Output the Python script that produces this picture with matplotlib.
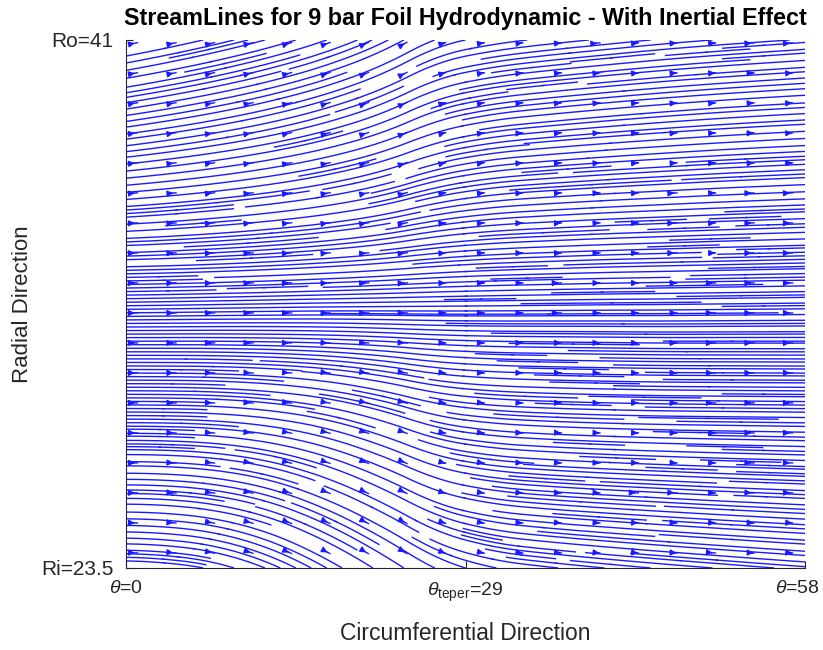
import numpy as np
import matplotlib.pyplot as plt
import matplotlib.transforms as mtransforms

plt.rcParams['font.family'] = ['Liberation Sans', 'DejaVu Sans']
plt.rcParams['mathtext.fontset'] = 'custom'
plt.rcParams['mathtext.rm'] = 'Liberation Sans'
plt.rcParams['mathtext.it'] = 'Liberation Sans:italic'

# grid of the film (circumferential angle, radius)
theta_nodes = np.linspace(0, 58, 13)
r_nodes = np.linspace(23.5, 41, 8)

# streamline slope (screen px down per px right),
# rows go from Ri (bottom) to Ro (top)
slope_px = np.array([
    [0.02, 0.12, 0.32, 0.50, 0.60, 0.65, 0.30, 0.12, 0.10, 0.09, 0.08, 0.08, 0.07],
    [0.00, 0.08, 0.20, 0.35, 0.45, 0.50, 0.20, 0.08, 0.06, 0.05, 0.05, 0.04, 0.04],
    [0.00, 0.02, 0.08, 0.16, 0.26, 0.32, 0.12, 0.05, 0.03, 0.02, 0.01, 0.01, 0.01],
    [0.00, 0.00, 0.01, 0.02, 0.04, 0.06, 0.03, 0.01, 0.01, 0.01, 0.00, 0.00, 0.00],
    [-0.02, -0.03, -0.04, -0.05, -0.06, -0.08, -0.05, -0.03, -0.03, -0.02, -0.02, -0.02, -0.02],
    [-0.08, -0.10, -0.12, -0.15, -0.20, -0.28, -0.15, -0.07, -0.06, -0.05, -0.05, -0.04, -0.04],
    [-0.15, -0.17, -0.20, -0.25, -0.32, -0.45, -0.20, -0.10, -0.09, -0.08, -0.07, -0.06, -0.05],
    [-0.20, -0.22, -0.25, -0.30, -0.40, -0.55, -0.20, -0.12, -0.10, -0.10, -0.08, -0.07, -0.07],
])

# where the arrow heads sit
arrow_theta = np.linspace(0.85, 56.8, 18)
arrow_r = np.linspace(24.0, 40.9, 18)

xticks = [0, 29, 58]
xticklabels = [r'$\theta$=0', r'$\theta_{\mathrm{teper}}$=29', r'$\theta$=58']
yticks = [23.5, 41]
yticklabels = ['Ri=23.5', 'Ro=41']

line_color = '#1a1aff'

fig = plt.figure(figsize=(8.23, 6.5), dpi=100)
ax = fig.add_axes([0.1531, 0.1262, 0.8251, 0.8123])

# convert screen slope to data slope
w_px = 0.8251 * 823
h_px = 0.8123 * 650
k = (17.5 / h_px) / (58 / w_px)
U = np.ones_like(slope_px)
V = -slope_px * k

ax.streamplot(theta_nodes, r_nodes, U, V, density=(1.5, 5.0), color=line_color,
              linewidth=1.0, arrowstyle='-', broken_streamlines=True)

T, R = np.meshgrid(arrow_theta, arrow_r)
seeds = np.column_stack([T.ravel(), R.ravel()])
ax.streamplot(theta_nodes, r_nodes, U, V, start_points=seeds, density=10,
              integration_direction='both', maxlength=0.008, minlength=0.002,
              color=line_color, linewidth=1.0, arrowstyle='-|>', arrowsize=0.85,
              broken_streamlines=False)

ax.set_xlim(0, 58)
ax.set_ylim(23.5, 41)
ax.set_xticks(xticks)
ax.set_xticklabels(xticklabels)
ax.set_yticks(yticks)
ax.set_yticklabels(yticklabels)
ax.tick_params(direction='in', length=5, colors='#262626')
ax.tick_params(axis='y', labelsize=15, pad=9)
ax.tick_params(axis='x', labelsize=14, pad=9)
for s in ['top', 'right']:
    ax.spines[s].set_visible(False)
for s in ['left', 'bottom']:
    ax.spines[s].set_color('#262626')

# last x label sits a bit inside the figure
last = ax.get_xticklabels()[-1]
last.set_transform(last.get_transform() + mtransforms.ScaledTranslation(-0.08, 0, fig.dpi_scale_trans))

ax.set_title('StreamLines for 9 bar Foil Hydrodynamic - With Inertial Effect',
             fontsize=16.8, fontweight='bold', pad=11)
ax.set_xlabel('Circumferential Direction', fontsize=16.5, color='#262626', labelpad=13)
ax.set_ylabel('Radial Direction', fontsize=16, color='#262626', labelpad=6)

fig.savefig('out.png', dpi=100)
